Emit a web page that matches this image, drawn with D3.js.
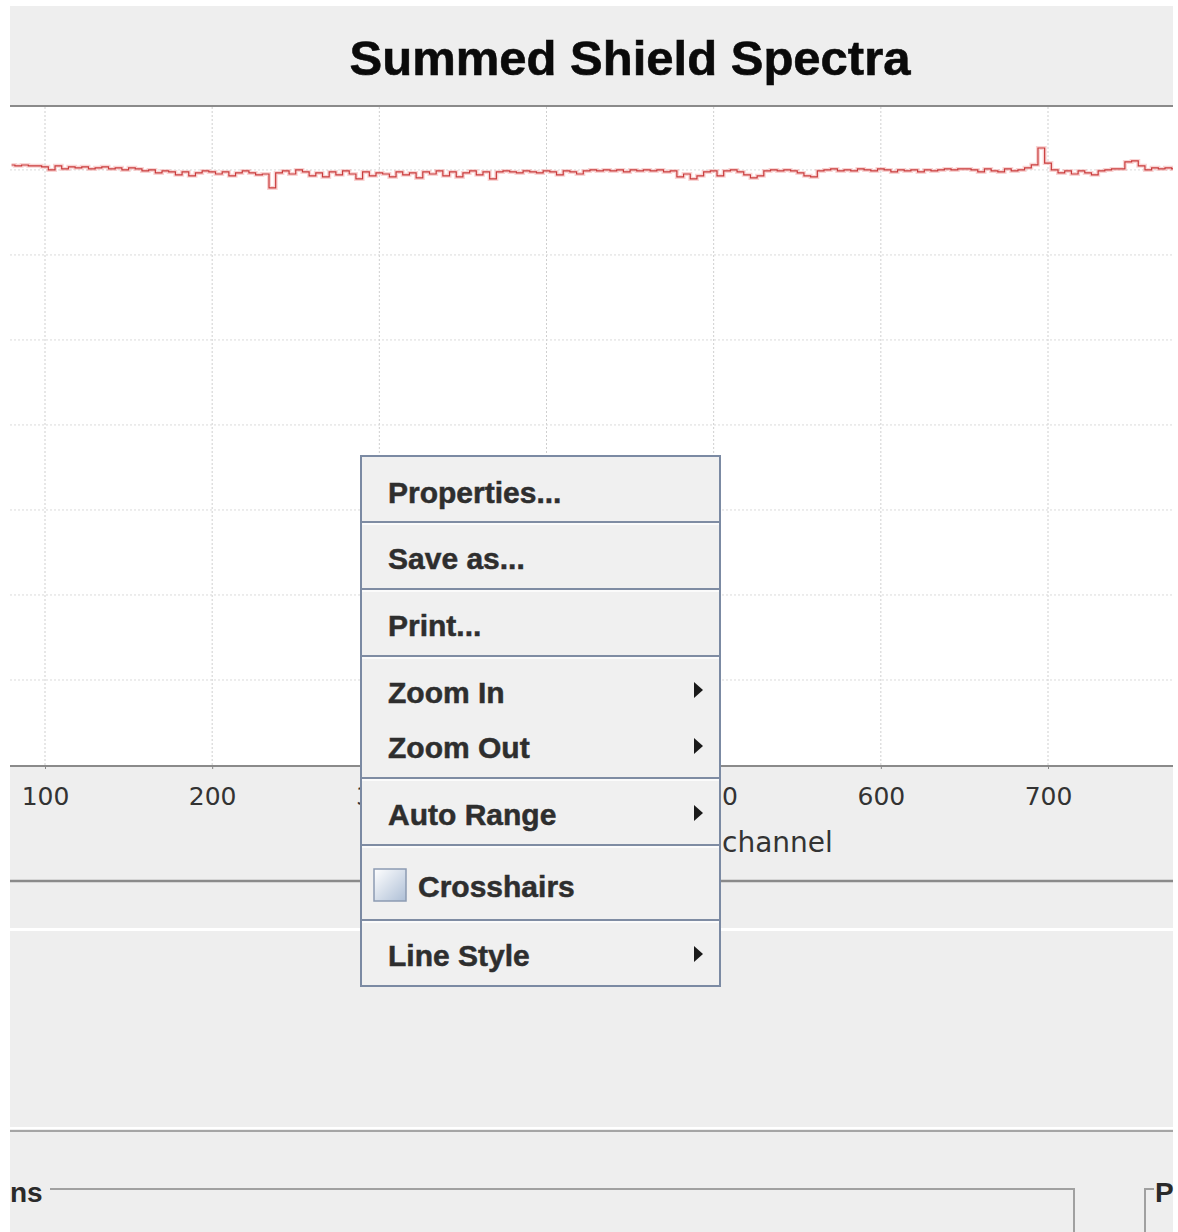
<!DOCTYPE html>
<html><head><meta charset="utf-8">
<script src="https://cdn.jsdelivr.net/npm/d3@7"></script>
<style>html,body{margin:0;padding:0;background:#fff;}svg{display:block;}</style>
</head><body>
<script>
const chartTitle = "Summed Shield Spectra";
const xLabel = "channel";
const xTicks = [100, 200, 300, 400, 500, 600, 700];
const yTicks = [500, 1000, 1500, 2000, 2500, 3000, 3500];
const channelStart = 80, channelStep = 4;
const counts = [
 3529,3524,3529,3524,3524,3518,3500,3524,3506,3518,
 3512,3518,3506,3512,3518,3506,3512,3500,3512,3506,
 3494,3500,3482,3494,3488,3471,3488,3465,3482,3494,
 3488,3476,3488,3465,3482,3494,3482,3471,3476,3394,
 3482,3494,3476,3500,3488,3465,3482,3459,3488,3471,
 3494,3476,3447,3488,3465,3482,3476,3459,3488,3471,
 3482,3453,3488,3476,3494,3465,3488,3459,3482,3494,
 3471,3488,3447,3488,3494,3488,3482,3494,3488,3482,
 3494,3488,3471,3494,3488,3476,3494,3500,3494,3500,
 3494,3500,3488,3500,3494,3500,3494,3500,3488,3494,
 3459,3476,3447,3465,3488,3494,3465,3494,3500,3488,
 3471,3453,3465,3494,3500,3494,3500,3494,3482,3465,
 3459,3494,3500,3506,3494,3500,3494,3506,3500,3494,
 3506,3500,3488,3500,3494,3500,3488,3500,3494,3500,
 3506,3500,3506,3506,3500,3488,3506,3494,3488,3506,
 3494,3500,3512,3530,3629,3540,3500,3482,3494,3476,
 3494,3482,3471,3494,3500,3506,3506,3547,3553,3524,
 3500,3512,3506,3512,3506
];
const channels = counts.map((_, i) => channelStart + i * channelStep);
const menuItems = [
 {label: "Properties...", arrow: false, check: false},
 {label: "Save as...", arrow: false, check: false},
 {label: "Print...", arrow: false, check: false},
 {label: "Zoom In", arrow: true, check: false},
 {label: "Zoom Out", arrow: true, check: false},
 {label: "Auto Range", arrow: true, check: false},
 {label: "Crosshairs", arrow: false, check: true},
 {label: "Line Style", arrow: true, check: false}
];

const W = 1178, H = 1232;
const svg = d3.select("body").append("svg").attr("width", W).attr("height", H);
const defs = svg.append("defs");
const gr = defs.append("linearGradient").attr("id","chk").attr("x1","0").attr("y1","0").attr("x2","1").attr("y2","1");
gr.append("stop").attr("offset","0").attr("stop-color","#ffffff");
gr.append("stop").attr("offset","1").attr("stop-color","#aebfd6");

const menu = {x:361, y:456, w:359, h:530};

// panel background
svg.append("rect").attr("x",0).attr("y",0).attr("width",W).attr("height",H).attr("fill","#ffffff");
svg.append("rect").attr("x",10).attr("y",6).attr("width",1163).attr("height",H-6).attr("fill","#eeeeee");

// plot area
const plot = {left:10, right:1173, top:107, bottom:765};
svg.append("rect").attr("x",plot.left).attr("y",plot.top).attr("width",plot.right-plot.left).attr("height",plot.bottom-plot.top).attr("fill","#ffffff");

const x = d3.scaleLinear().domain([100, 700]).range([45, 1048]);
const y = d3.scaleLinear().domain([0, 3870]).range([765, 107]);

const clip = defs.append("clipPath").attr("id","pc");
clip.append("rect").attr("x",plot.left).attr("y",plot.top).attr("width",plot.right-plot.left).attr("height",plot.bottom-plot.top);
// region outside the popup menu (for the axis labels that it hides)
const clipOut = defs.append("clipPath").attr("id","outside");
clipOut.append("path").attr("clip-rule","evenodd")
 .attr("d",`M0,0 H${W} V${H} H0 Z M${menu.x-1},${menu.y-1} V${menu.y+menu.h+1} H${menu.x+menu.w+1} V${menu.y-1} Z`);

const grid = svg.append("g").attr("clip-path","url(#pc)");
grid.selectAll("line.vx").data(xTicks).join("line")
 .attr("x1",d=>x(d)).attr("x2",d=>x(d)).attr("y1",plot.top).attr("y2",plot.bottom)
 .attr("stroke","#cfcfcf").attr("stroke-width",1).attr("stroke-dasharray","2,2");
grid.selectAll("line.hy").data(yTicks).join("line")
 .attr("x1",plot.left).attr("x2",plot.right).attr("y1",d=>y(d)).attr("y2",d=>y(d))
 .attr("stroke","#dadada").attr("stroke-width",1).attr("stroke-dasharray","2,2");

// data line
const line = d3.line().x((d,i)=>x(channels[i])).y(d=>y(d)).curve(d3.curveStep);
grid.append("path").datum(counts).attr("d",line).attr("fill","none")
 .attr("stroke","#f2a0a0").attr("stroke-opacity",0.45).attr("stroke-width",4);
grid.append("path").datum(counts).attr("d",line).attr("fill","none")
 .attr("stroke","#c93b3b").attr("stroke-width",1.2);

// top border of plot
svg.append("line").attr("x1",plot.left).attr("x2",plot.right).attr("y1",106).attr("y2",106).attr("stroke","#8a8a8a").attr("stroke-width",2);

// x axis (labels under the popup are clipped away, as in the screenshot)
const xAxis = d3.axisBottom(x).tickValues(xTicks).tickSize(4).tickPadding(18).tickFormat(d3.format("d"));
const ax = svg.append("g").attr("transform","translate(0,765)").attr("clip-path","url(#outsideAx)").call(xAxis);
defs.append("clipPath").attr("id","outsideAx").append("path").attr("clip-rule","evenodd")
 .attr("d",`M-10,-800 H${W+10} V${H} H-10 Z M${menu.x-1},${menu.y-766} V${menu.y+menu.h-764} H${menu.x+menu.w+1} V${menu.y-766} Z`);
ax.select(".domain").remove();
ax.selectAll(".tick line").attr("stroke","#888");
ax.selectAll(".tick text").attr("font-family","DejaVu Sans, sans-serif").attr("font-size",25).attr("fill","#333");
svg.append("line").attr("x1",plot.left).attr("x2",plot.right).attr("y1",766).attr("y2",766).attr("stroke","#8a8a8a").attr("stroke-width",2);
svg.append("text").attr("x",722).attr("y",852).text(xLabel)
 .attr("font-family","DejaVu Sans, sans-serif").attr("font-size",28).attr("fill","#333");

// title
svg.append("text").attr("x",630).attr("y",75).attr("text-anchor","middle").text(chartTitle)
 .attr("font-family","Liberation Sans, Arial, sans-serif").attr("font-weight","bold").attr("font-size",49)
 .attr("fill","#0a0a0a").attr("stroke","#0a0a0a").attr("stroke-width",0.6);

// lower panel lines
svg.append("line").attr("x1",plot.left).attr("x2",plot.right).attr("y1",881).attr("y2",881).attr("stroke","#8a8a8a").attr("stroke-width",2.5);
svg.append("line").attr("x1",plot.left).attr("x2",plot.right).attr("y1",929.5).attr("y2",929.5).attr("stroke","#ffffff").attr("stroke-width",3);
svg.append("line").attr("x1",plot.left).attr("x2",plot.right).attr("y1",1128).attr("y2",1128).attr("stroke","#ffffff").attr("stroke-width",2);
svg.append("line").attr("x1",plot.left).attr("x2",plot.right).attr("y1",1131).attr("y2",1131).attr("stroke","#a5a5a5").attr("stroke-width",2);

// titled borders
svg.append("text").attr("x",10).attr("y",1202).text("ns")
 .attr("font-family","Liberation Sans, Arial, sans-serif").attr("font-weight","bold").attr("font-size",28).attr("fill","#2a2a2a");
svg.append("path").attr("d","M50,1189 H1074 V1232").attr("fill","none").attr("stroke","#a0a0a0").attr("stroke-width",2);
svg.append("path").attr("d","M1145,1232 V1189 H1154").attr("fill","none").attr("stroke","#a0a0a0").attr("stroke-width",2);
svg.append("text").attr("x",1155).attr("y",1202).text("P")
 .attr("font-family","Liberation Sans, Arial, sans-serif").attr("font-weight","bold").attr("font-size",28).attr("fill","#2a2a2a");

// context menu
const mg = svg.append("g");
mg.append("rect").attr("x",menu.x).attr("y",menu.y).attr("width",menu.w).attr("height",menu.h)
 .attr("fill","#f0f0f0").attr("stroke","#7b8aa3").attr("stroke-width",2);
const seps = [522, 589, 656, 778, 845, 920];
mg.selectAll("line.sep").data(seps).join("line")
 .attr("x1",menu.x+1).attr("x2",menu.x+menu.w-1).attr("y1",d=>d).attr("y2",d=>d)
 .attr("stroke","#7f8ca3").attr("stroke-width",2);
mg.selectAll("line.sepw").data(seps).join("line")
 .attr("x1",menu.x+1).attr("x2",menu.x+menu.w-1).attr("y1",d=>d+2).attr("y2",d=>d+2)
 .attr("stroke","#ffffff").attr("stroke-width",1.5);
const baselines = [503, 569, 636, 703, 758, 825, 897, 966];
const arrowY = [0, 0, 0, 690, 746, 813, 0, 954];
menuItems.forEach((m, i) => {
 mg.append("text").attr("x", m.check ? 418 : 388).attr("y", baselines[i]).text(m.label)
  .attr("font-family","Liberation Sans, Arial, sans-serif").attr("font-weight","bold")
  .attr("font-size",30).attr("fill","#2e2e2e").attr("stroke","#2e2e2e").attr("stroke-width",0.5);
 if (m.arrow) {
  const ay = arrowY[i];
  mg.append("path").attr("d",`M694,${ay-8} L703,${ay} L694,${ay+8} Z`).attr("fill","#1a1a1a");
 }
 if (m.check) {
  mg.append("rect").attr("x",374).attr("y",869).attr("width",32).attr("height",32)
   .attr("fill","url(#chk)").attr("stroke","#8c9bb2").attr("stroke-width",1.5);
 }
});
</script>
</body></html>
